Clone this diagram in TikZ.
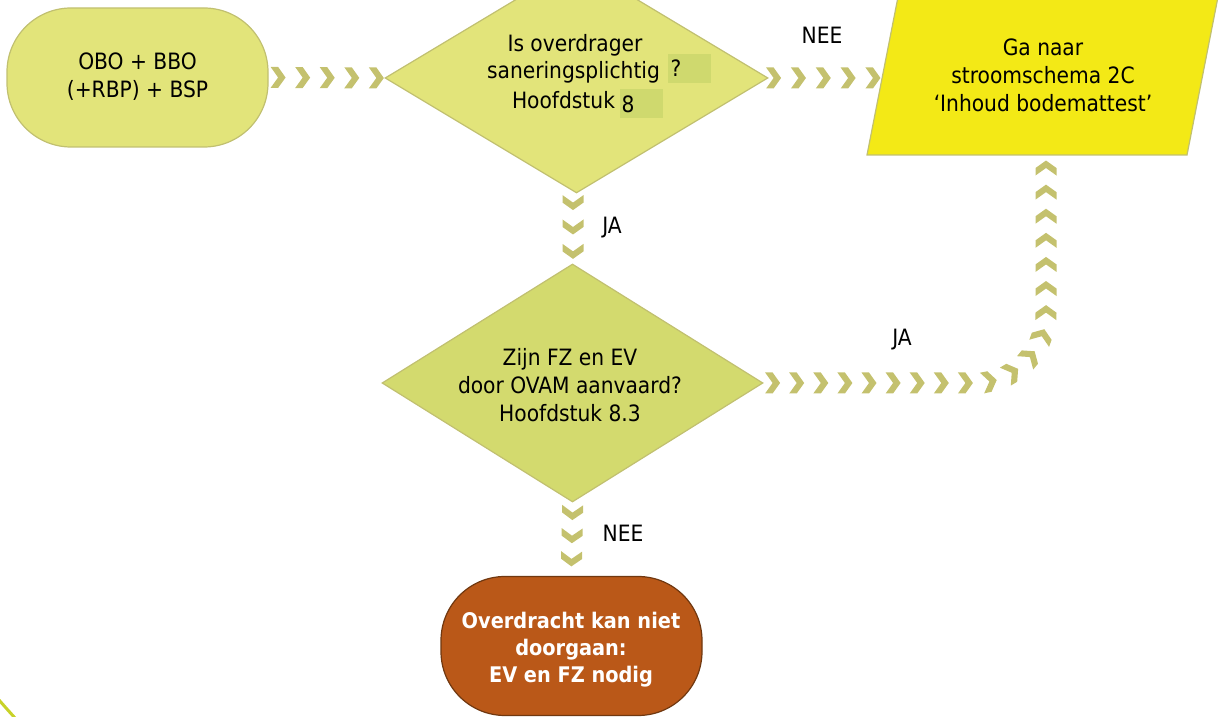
\documentclass[tikz,border=0pt]{standalone}
\usepackage{fontspec}
\setmainfont{DejaVu Sans Condensed}
\usetikzlibrary{shapes.geometric,decorations.markings,calc}

\definecolor{startfill}{RGB}{226,228,122}
\definecolor{qtwofill}{RGB}{211,218,110}
\definecolor{hlbox}{RGB}{207,217,110}
\definecolor{olivebord}{RGB}{193,192,112}
\definecolor{gotofill}{RGB}{243,233,22}
\definecolor{stopfill}{RGB}{186,88,24}
\definecolor{stopbord}{RGB}{112,56,16}
\definecolor{chevc}{RGB}{196,193,110}
\definecolor{swoosh}{RGB}{200,210,40}

\newcommand\regtxt{\fontsize{22.5}{28}\selectfont}
\newcommand\boldtxt{\fontsize{21.5}{27}\selectfont\bfseries}

\begin{document}
\begin{tikzpicture}[x=1pt,y=1pt,
  term/.style={rectangle, rounded corners=64pt, minimum width=261pt,
    minimum height=139pt, inner sep=0pt, line width=1.2pt},
  decision/.style={diamond, inner sep=0pt, draw=olivebord, line width=1.2pt},
  txt/.style={inner sep=0pt, align=center, font=\regtxt},
  chev/.style={decorate, decoration={markings,
    mark=between positions 0 and 1 step #1 with {
      \fill[chevc] (-7.5,10.5) -- (0,10.5) -- (7.5,0) -- (0,-10.5) -- (-7.5,-10.5) -- (0,0) -- cycle;}}}
]
\useasboundingbox (0,0) rectangle (1219,717);

% decorative swoosh in the lower left corner
\draw[swoosh, line width=3pt] (-1,17) .. controls (6,9) .. (15,-1);

% start terminator
\node[term, draw=olivebord, fill=startfill] (start) at (137.5,639.5) {};
\node[txt] (starttxt) at (137.5,640) {OBO + BBO\\(+RBP) + BSP};

% first decision
\node[decision, fill=startfill, minimum width=383pt, minimum height=230pt] (d1) at (576.5,639) {};
\fill[hlbox] (668,634) rectangle (711,663);
\fill[hlbox] (620,599) rectangle (663,628);
\node[txt, anchor=base] (d1a) at (575,665) {Is overdrager};
\node[txt, anchor=base] (d1b) at (573.5,638) {saneringsplichtig};
\node[txt, anchor=base] (d1c) at (563.5,608) {Hoofdstuk};
\node[txt, anchor=base] (d1q) at (676,640) {?};
\node[txt, anchor=base] (d1n) at (628,604) {8};

% go-to parallelogram
\coordinate (gbl) at (867,562);
\coordinate (gbr) at (1187,562);
\coordinate (gtr) at (1218,720);
\coordinate (gtl) at (898,720);
\coordinate (gbot) at (1046,562);
\coordinate (gin) at (873,639);
\draw[olivebord, fill=gotofill, line width=1.2pt] (gbl) -- (gbr) -- (gtr) -- (gtl) -- cycle;
\node[txt] (gototxt) at (1043,642) {Ga naar\\stroomschema 2C\\‘Inhoud bodemattest’};

% second decision
\node[decision, fill=qtwofill, minimum width=381pt, minimum height=238pt] (d2) at (572.5,334) {};
\node[txt] (d2txt) at (570,331.5) {Zijn FZ en EV\\door OVAM aanvaard?\\Hoofdstuk 8.3};

% stop terminator
\node[term, draw=stopbord, fill=stopfill] (stop) at (571.5,71) {};
\node[txt, font=\boldtxt, text=white] (stoptxt) at (571,67.5) {Overdracht kan niet\\doorgaan:\\EV en FZ nodig};

% branch labels
\node[txt] (nee1) at (822,682) {NEE};
\node[txt] (ja1) at (612,489) {JA};
\node[txt] (ja2) at (902,377) {JA};
\node[txt] (nee2) at (623,184) {NEE};

% chevron connectors
\path[chev=0.2499] ($(start.east)+(9.5,0)$) -- ($(d1.west)+(-8,0)$);
\path[chev=0.2499] ($(d1.east)+(5,0)$) -- (gin);
\path[chev=0.4999] ($(d1.south)+(-3.5,-9)$) -- ($(d2.north)+(0.5,12)$);
\path[chev=0.05263] ($(d2.east)+(9,0)$) -- (975,334)
  arc[start angle=-90, end angle=0, radius=71] -- ($(gbot)+(0,-13)$);
\path[chev=0.4999] ($(d2.south)+(0,-10)$) -- ($(stop.north)+(0,17)$);
\end{tikzpicture}
\end{document}
